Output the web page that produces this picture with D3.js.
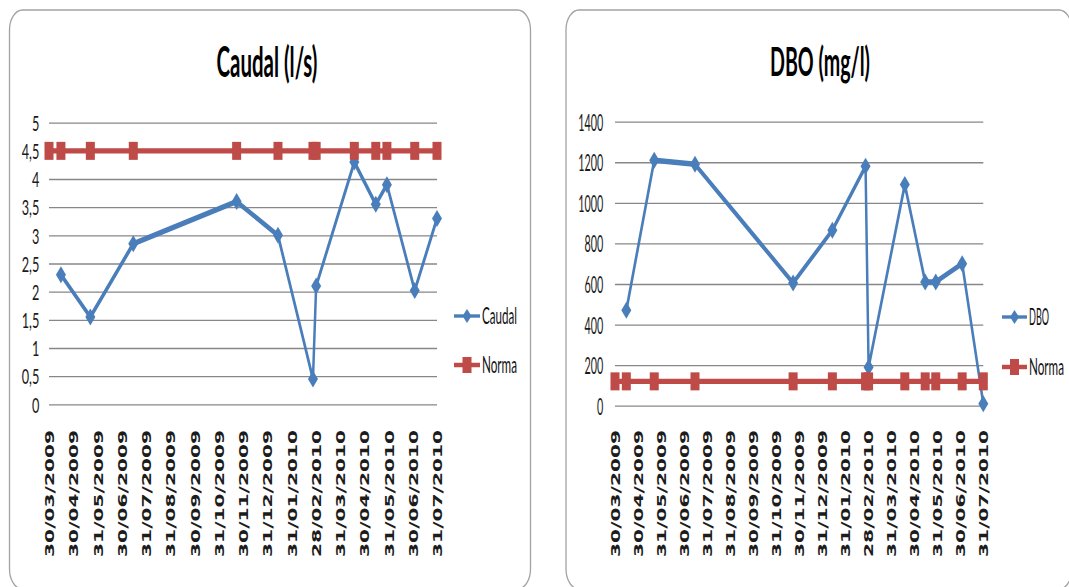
<!DOCTYPE html>
<html>
<head>
<meta charset="utf-8">
<script src="https://cdn.jsdelivr.net/npm/d3@7/dist/d3.min.js"></script>
<style>
  html, body { margin: 0; padding: 0; background: #fff; }
  svg { display: block; }
</style>
</head>
<body>
<svg id="chart" width="1069" height="587"></svg>
<script>
// ---- data -------------------------------------------------------------
const tickLabels = [
  "30/03/2009", "30/04/2009", "31/05/2009", "30/06/2009", "31/07/2009",
  "31/08/2009", "30/09/2009", "31/10/2009", "30/11/2009", "31/12/2009",
  "31/01/2010", "28/02/2010", "31/03/2010", "30/04/2010", "31/05/2010",
  "30/06/2010", "31/07/2010"
];

// sampling dates of the measured series
const sampleDates = [
  "14/04/2009", "21/05/2009", "14/07/2009", "21/11/2009", "12/01/2010",
  "25/02/2010", "01/03/2010", "18/04/2010", "15/05/2010", "29/05/2010",
  "03/07/2010", "31/07/2010"
];
// the limit series also starts at the first axis date
const normaDates = [
  "30/03/2009", "14/04/2009", "21/05/2009", "14/07/2009", "21/11/2009",
  "12/01/2010", "25/02/2010", "01/03/2010", "18/04/2010", "15/05/2010",
  "29/05/2010", "03/07/2010", "31/07/2010"
];

const caudalValues = [2.3, 1.55, 2.85, 3.6, 3.0, 0.45, 2.1, 4.3, 3.55, 3.9, 2.02, 3.3];
const caudalNorma  = [4.5, 4.5, 4.5, 4.5, 4.5, 4.5, 4.5, 4.5, 4.5, 4.5, 4.5, 4.5, 4.5];
const caudalTicks  = [0, 0.5, 1, 1.5, 2, 2.5, 3, 3.5, 4, 4.5, 5];

const dboValues = [470, 1210, 1190, 605, 865, 1180, 190, 1090, 610, 610, 700, 10];
const dboNorma  = [120, 120, 120, 120, 120, 120, 120, 120, 120, 120, 120, 120, 120];
const dboTicks  = [0, 200, 400, 600, 800, 1000, 1200, 1400];

// ---- setup ------------------------------------------------------------
const parse = d3.timeParse("%d/%m/%Y");
const BLUE = "#4a7ebb";
const RED = "#be4b48";
const STRETCH = 2.2;          // vertical stretch applied to lines and text
const LATO_CAP = 0.7165;
const svg = d3.select("#chart");

function emWidth(text, family, weight) {
  const t = svg.append("text")
    .attr("font-family", family).attr("font-size", 100)
    .attr("font-weight", weight || "normal").text(text);
  const w = t.node().getComputedTextLength();
  t.remove();
  return w / 100;
}
// font size from a target width, vertical scale from a target cap height
function fit(text, family, width, capH, weight, capRatio) {
  const fs = width / emWidth(text, family, weight);
  return { fs, sy: capH / ((capRatio || LATO_CAP) * fs) };
}

function stretchedText(g, str, x, baseline, f, opts) {
  return g.append("text")
    .attr("transform", `translate(${x},${baseline}) scale(1,${f.sy})`)
    .attr("font-family", opts.family || "Lato")
    .attr("font-weight", opts.weight || "normal")
    .attr("font-size", f.fs)
    .attr("text-anchor", opts.anchor || "start")
    .attr("fill", opts.fill || "#111")
    .text(str);
}

const diamond = (w, h) => `M0,${-h / 2}L${w / 2},0L0,${h / 2}L${-w / 2},0Z`;

function drawPanel(c) {
  const g = svg.append("g");

  g.append("rect")
    .attr("x", c.box.x).attr("y", c.box.y)
    .attr("width", c.box.w).attr("height", c.box.h)
    .attr("rx", 13).attr("ry", 20)
    .attr("fill", "#fff").attr("stroke", "#a3a3a3").attr("stroke-width", 1.3);

  const x = d3.scaleTime()
    .domain([parse(tickLabels[0]), parse(tickLabels[tickLabels.length - 1])])
    .range([c.plot.x0, c.plot.x1]);
  const y = d3.scaleLinear()
    .domain([0, c.yTicks[c.yTicks.length - 1]])
    .range([c.plot.yBottom, c.plot.yTop]);

  const [d0, d1] = x.domain();
  const tickDates = tickLabels.map((_, i) =>
    new Date(+d0 + (d1 - d0) * i / (tickLabels.length - 1)));

  // horizontal gridlines + value labels
  const fy = fit(c.yFmt(c.yRef), "Lato", c.yRefWidth, c.yRefHeight);
  g.append("g")
    .attr("transform", `translate(${c.plot.x0},0)`)
    .call(d3.axisLeft(y).tickValues(c.yTicks)
      .tickSize(-(c.plot.x1 - c.plot.x0)).tickFormat(c.yFmt))
    .call(a => a.select(".domain").remove())
    .call(a => a.selectAll(".tick line")
      .attr("stroke", "#878787").attr("stroke-width", 1.3))
    .call(a => a.selectAll(".tick text")
      .attr("x", 0).attr("dy", null)
      .attr("font-family", "Lato").attr("font-size", fy.fs)
      .attr("fill", "#1a1a1a").attr("text-anchor", "end")
      .attr("transform", `translate(${-c.yPad},${c.yRefHeight / 2}) scale(1,${fy.sy})`));

  // date labels, rotated
  const xFs = 13;
  const xEm = emWidth(tickLabels[0], "DejaVu Sans", "bold");
  const xSx = c.xLabelLen / (xEm * xFs);
  g.append("g")
    .attr("transform", `translate(0,${c.plot.yBottom})`)
    .call(d3.axisBottom(x).tickValues(tickDates).tickSize(0)
      .tickFormat((d, i) => tickLabels[i]))
    .call(a => a.select(".domain").remove())
    .call(a => a.selectAll(".tick text")
      .attr("y", 0).attr("dy", "0.36em")
      .attr("font-family", "DejaVu Sans").attr("font-weight", "bold")
      .attr("font-size", xFs)
      .attr("fill", "#1c1c1c").attr("text-anchor", "end")
      .attr("transform", `translate(0,${c.xLabelTop - c.plot.yBottom}) rotate(-90) scale(${xSx},1)`));

  const series = sampleDates.map((d, i) => ({ date: parse(d), value: c.values[i] }));
  const norma = normaDates.map((d, i) => ({ date: parse(d), value: c.norma[i] }));

  // lines are drawn in unstretched space so their thickness follows the stretch
  const line = d3.line().x(d => x(d.date)).y(d => y(d.value) / STRETCH);
  const gs = g.append("g").attr("transform", `scale(1,${STRETCH})`);

  gs.append("path").datum(series).attr("d", line)
    .attr("fill", "none").attr("stroke", BLUE)
    .attr("stroke-width", 2.5).attr("stroke-linejoin", "round");
  g.append("g").selectAll("path").data(series).join("path")
    .attr("transform", d => `translate(${x(d.date)},${y(d.value)})`)
    .attr("d", diamond(10, 17)).attr("fill", BLUE);

  const gs2 = g.append("g").attr("transform", `scale(1,${STRETCH})`);
  gs2.append("path").datum(norma).attr("d", line)
    .attr("fill", "none").attr("stroke", RED).attr("stroke-width", 2.3);
  g.append("g").selectAll("rect").data(norma).join("rect")
    .attr("x", d => x(d.date) - 4.5).attr("y", d => y(d.value) - 9)
    .attr("width", 9).attr("height", 18).attr("fill", RED);

  // title
  const ft = fit(c.title, "Lato", c.titleWidth, c.titleCap, "bold");
  stretchedText(g, c.title, c.titleX, c.titleBase, ft, { anchor: "middle", weight: "bold", fill: "#000" });

  // legend
  const L = c.legend;
  const lg = g.append("g");
  lg.append("line").attr("x1", L.x0).attr("x2", L.x1).attr("y1", L.y1).attr("y2", L.y1)
    .attr("stroke", BLUE).attr("stroke-width", 3.4);
  lg.append("path").attr("transform", `translate(${(L.x0 + L.x1) / 2},${L.y1})`)
    .attr("d", diamond(9, 14)).attr("fill", BLUE);
  lg.append("line").attr("x1", L.x0).attr("x2", L.x1).attr("y1", L.y2).attr("y2", L.y2)
    .attr("stroke", RED).attr("stroke-width", 4.5);
  lg.append("rect").attr("x", (L.x0 + L.x1) / 2 - 4.5).attr("y", L.y2 - 8)
    .attr("width", 9).attr("height", 16).attr("fill", RED);
  const f1 = fit(c.name, "Lato", L.w1, 16);
  stretchedText(lg, c.name, L.x1 + 2, L.y1 + 8, f1, {});
  const f2 = fit("Norma", "Lato", 35, 16);
  stretchedText(lg, "Norma", L.x1 + 2, L.y2 + 8, f2, {});
}

drawPanel({
  box: { x: 9.5, y: 10, w: 521, h: 579 },
  plot: { x0: 49, x1: 437, yTop: 122.7, yBottom: 404.3 },
  yTicks: caudalTicks,
  yFmt: d => String(d).replace(".", ","),
  yRef: 4.5, yRefWidth: 17.6, yRefHeight: 15.5, yPad: 9.7,
  xLabelTop: 430, xLabelLen: 127,
  values: caudalValues, norma: caudalNorma,
  title: "Caudal (l/s)", titleX: 267, titleBase: 77, titleWidth: 101, titleCap: 30.5,
  name: "Caudal",
  legend: { x0: 454, x1: 480, y1: 316, y2: 365, w1: 35 }
});

drawPanel({
  box: { x: 566, y: 10, w: 506, h: 579 },
  plot: { x0: 615, x1: 983.3, yTop: 121.7, yBottom: 405.7 },
  yTicks: dboTicks,
  yFmt: d => String(d),
  yRef: 1400, yRefWidth: 25, yRefHeight: 17, yPad: 11.7,
  xLabelTop: 430, xLabelLen: 127,
  values: dboValues, norma: dboNorma,
  title: "DBO (mg/l)", titleX: 820, titleBase: 75.5, titleWidth: 100, titleCap: 29,
  name: "DBO",
  legend: { x0: 1002, x1: 1027, y1: 317, y2: 367, w1: 20 }
});
</script>
</body>
</html>
